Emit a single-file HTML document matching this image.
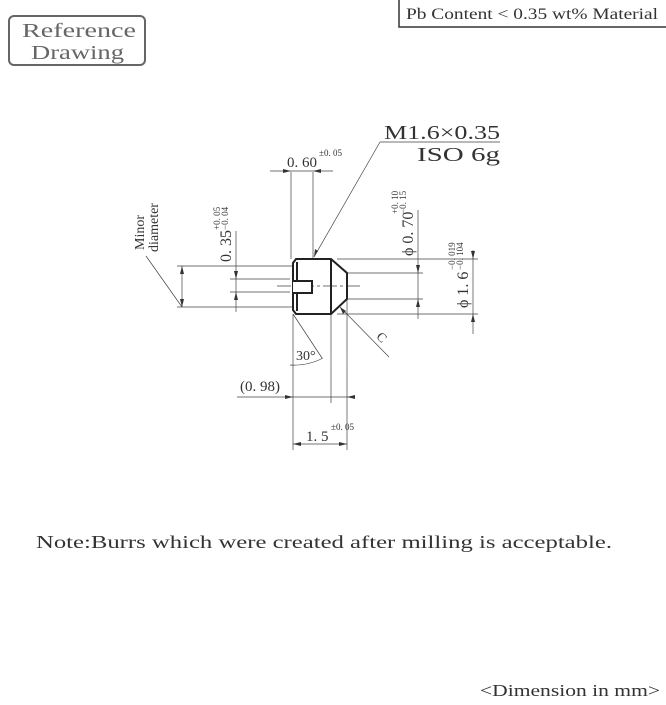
<!DOCTYPE html>
<html><head><style>
body{margin:0;width:666px;height:700px;background:#fff;overflow:hidden;font-family:"Liberation Serif",serif;color:#333}
</style></head><body>
<svg width="666" height="700" xmlns="http://www.w3.org/2000/svg" font-family="Liberation Serif, serif" fill="#333">
<rect x="9" y="16" width="136" height="49" rx="5" fill="none" stroke="#666" stroke-width="2"/>
<text x="22" y="37" font-size="20" textLength="114" lengthAdjust="spacingAndGlyphs" fill="#666">Reference</text>
<text x="31" y="59" font-size="20" textLength="93" lengthAdjust="spacingAndGlyphs" fill="#666">Drawing</text>
<path d="M399 0V27H666" fill="none" stroke="#333" stroke-width="1.5"/>
<text x="406" y="19" font-size="16" textLength="252" lengthAdjust="spacingAndGlyphs">Pb Content &lt; 0.35 wt% Material</text>
<g stroke="#444" stroke-width="0.7" fill="none">
<path d="M177 266H293M177 307H293M182 266V307"/>
<path d="M182 307L146 256"/>
<path d="M230 279H290M230 292H290M236 231V312"/>
<path d="M291 172V259M313 172V259M270 171H333"/>
<path d="M380 142L314 257M380 142H500"/>
<path d="M348 273H423M348 299H423M418 210V319"/>
<path d="M337 259H478M337 314H478M473 250V334"/>
<path d="M340 307L389 357"/>
<path d="M293 314V450M331 314V403M347 299V450M293 314L322 358M290 365Q308 366 323 358"/>
<path d="M237 397H350M293 444H347"/>
<path d="M277 286H360" stroke-dasharray="14 3 3 3"/>
</g>
<g fill="#333">
<path d="M182 266l-2 8h4zM182 307l-2-8h4zM236 279l-2-8h4zM236 292l-2 8h4zM291 171l-8-2v4zM313 171l8-2v4zM314 257l1-8 3 2zM418 273l-2-8h4zM418 299l-2 8h4zM473 259l-2-8h4zM473 314l-2 8h4zM293 397l-8-2v4zM347 397l8-2v4zM293 444l8-2v4zM347 444l-8-2v4zM340 307l3 7 3-3z"/>
</g>
<g stroke="#222" stroke-width="2" fill="none">
<path d="M296 259H331L347 273V299L331 314H296L293 310V263Z"/>
<path d="M331 259V314M297 262V311"/>
<path d="M293 281H312V293H293" fill="#fff"/>
</g>
<g font-size="15">
<text x="287" y="167">0. 60</text>
<text x="319" y="156" font-size="9">±0. 05</text>
<text x="384" y="139" font-size="20" textLength="116" lengthAdjust="spacingAndGlyphs">M1.6×0.35</text>
<text x="417" y="161" font-size="20" textLength="83" lengthAdjust="spacingAndGlyphs">ISO 6g</text>
<text x="240" y="391">(0. 98)</text>
<text x="306" y="441">1. 5</text>
<text x="331" y="430" font-size="9">±0. 05</text>
<text x="296" y="360" font-size="14">30°</text>
<text x="377" y="342" font-size="13" transform="rotate(45 382 338)">C</text>
<text transform="translate(144 250) rotate(-90)" font-size="14">Minor</text>
<text transform="translate(158 252) rotate(-90)" font-size="14">diameter</text>
<text transform="translate(231 262) rotate(-90)" font-size="16">0. 35</text>
<text transform="translate(220 230) rotate(-90)" font-size="9">+0. 05</text>
<text transform="translate(228 230) rotate(-90)" font-size="9">−0. 04</text>
<text transform="translate(413 256) rotate(-90)" font-size="16">ϕ 0. 70</text>
<text transform="translate(398 214) rotate(-90)" font-size="9">+0. 10</text>
<text transform="translate(406 214) rotate(-90)" font-size="9">−0. 15</text>
<text transform="translate(468 308) rotate(-90)" font-size="16">ϕ 1. 6</text>
<text transform="translate(455 270) rotate(-90)" font-size="9">−0. 019</text>
<text transform="translate(463 270) rotate(-90)" font-size="9">−0. 104</text>
</g>
<text x="36" y="548" font-size="18" textLength="576" lengthAdjust="spacingAndGlyphs">Note:Burrs which were created after milling is acceptable.</text>
<text x="480" y="696" font-size="17" textLength="180" lengthAdjust="spacingAndGlyphs">&lt;Dimension in mm&gt;</text>
</svg>
</body></html>
